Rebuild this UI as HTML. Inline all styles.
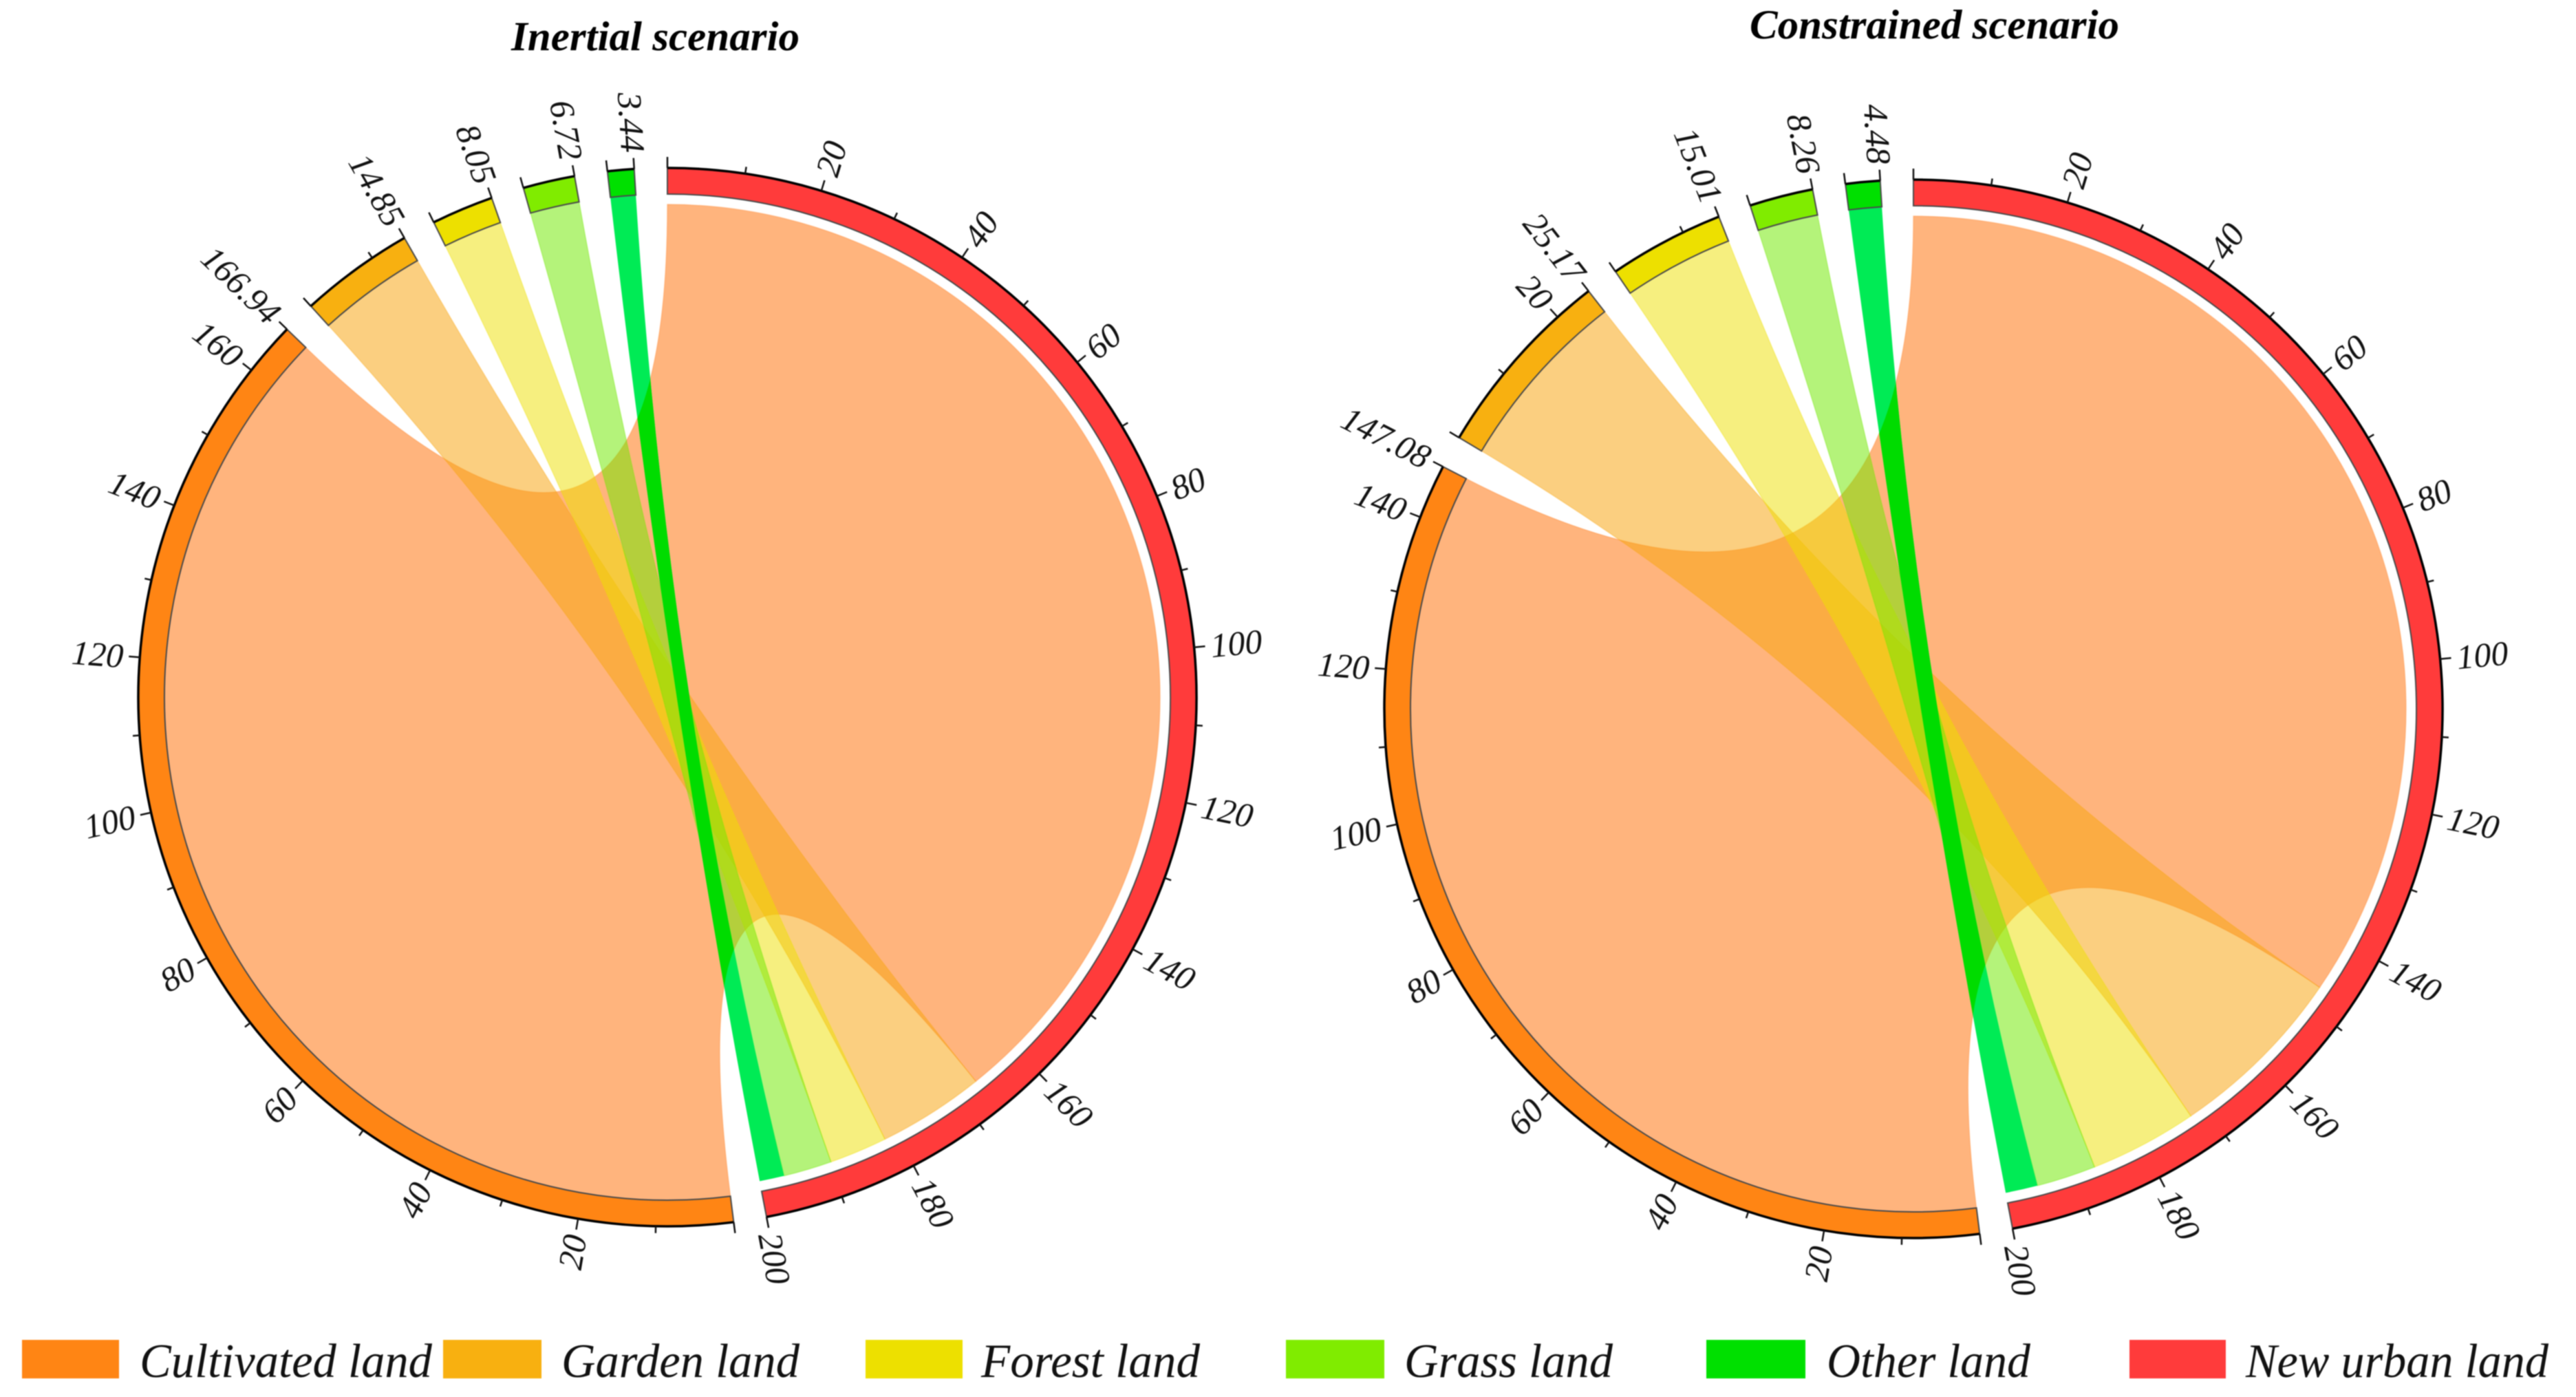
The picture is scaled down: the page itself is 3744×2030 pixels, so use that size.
<!DOCTYPE html>
<html lang="en">
<head>
<meta charset="utf-8">
<title>Chord diagrams of land conversion to new urban land</title>
<style>
  html, body { margin: 0; padding: 0; background: #fff; overflow: hidden; }
  svg { display: block; filter: blur(0.7px); }
  text { font-family: "Liberation Serif", "DejaVu Serif", serif; font-style: italic; fill: #111; }
  .title { font-weight: bold; font-size: 60px; fill: #000; }
  .legend-text { font-size: 70px; }
  .tick-label { font-size: 50px; }
</style>
</head>
<body>
<svg id="figure" xmlns="http://www.w3.org/2000/svg" width="3744" height="2030" viewBox="0 0 3744 2030">
  <rect width="3744" height="2030" fill="#fff"/>
  <text class="title" x="743" y="73" textLength="419" lengthAdjust="spacingAndGlyphs">Inertial scenario</text>
  <text class="title" x="2543" y="56" textLength="537" lengthAdjust="spacingAndGlyphs">Constrained scenario</text>
  <g id="chart-inertial"></g>
  <g id="chart-constrained"></g>
  <g>
    <g>
      <rect x="32" y="1947" width="141" height="56" fill="#ff8514"/>
      <text class="legend-text" x="203" y="2001" textLength="425" lengthAdjust="spacingAndGlyphs">Cultivated land</text>
    </g>
    <g>
      <rect x="644" y="1947" width="143" height="56" fill="#f8b010"/>
      <text class="legend-text" x="816" y="2001" textLength="346" lengthAdjust="spacingAndGlyphs">Garden land</text>
    </g>
    <g>
      <rect x="1258" y="1947" width="141" height="56" fill="#ede000"/>
      <text class="legend-text" x="1426" y="2001" textLength="318" lengthAdjust="spacingAndGlyphs">Forest land</text>
    </g>
    <g>
      <rect x="1869" y="1947" width="143" height="56" fill="#80ec00"/>
      <text class="legend-text" x="2041" y="2001" textLength="303" lengthAdjust="spacingAndGlyphs">Grass land</text>
    </g>
    <g>
      <rect x="2480" y="1947" width="144" height="56" fill="#00e000"/>
      <text class="legend-text" x="2655" y="2001" textLength="296" lengthAdjust="spacingAndGlyphs">Other land</text>
    </g>
    <g>
      <rect x="3095" y="1947" width="140" height="56" fill="#ff3b3b"/>
      <text class="legend-text" x="3264" y="2001" textLength="440" lengthAdjust="spacingAndGlyphs">New urban land</text>
    </g>
  </g>
</svg>
<script>
const categories = ['cultivated-land', 'garden-land', 'forest-land', 'grass-land', 'other-land'];
const inertialValues = [166.94, 14.85, 8.05, 6.72, 3.44];
const constrainedValues = [147.08, 25.17, 15.01, 8.26, 4.48];
const sourceColors = ['#ff8514', '#f8b010', '#ede000', '#80ec00', '#00e000'];
const ribbonColors = ['#ff8226', '#f8a510', '#ede000', '#70e800', '#00eb55'];
const ribbonOpacities = [0.6, 0.53, 0.5, 0.52, 1];
const targetName = 'new-urban-land';
const targetColor = '#ff3b3b';

const SVGNS = 'http://www.w3.org/2000/svg';
const GAP = 3.6;
const R_OUT = 769, R_IN = 731, R_TARGET = 716, R_LABEL = 793;
const MAJOR = 16, MINOR = 10;

function make(tag, parent) {
  const e = document.createElementNS(SVGNS, tag);
  parent.appendChild(e);
  return e;
}
function fmt(v) { return String(Math.round(v * 100) / 100); }

function drawChord(groupId, values, cx, cy, key) {
  const g = document.getElementById(groupId);
  const total = values.reduce(function (a, b) { return a + b; }, 0);
  const k = (360 - (values.length + 1) * GAP) / (2 * total);

  function pt(angle, r) {
    const t = angle * Math.PI / 180;
    return [cx + r * Math.sin(t), cy - r * Math.cos(t)];
  }
  function p(a) { return a[0].toFixed(2) + ' ' + a[1].toFixed(2); }
  function arc(a0, a1, r, sweep) {
    const large = Math.abs(a1 - a0) > 180 ? 1 : 0;
    return 'A' + r + ' ' + r + ' 0 ' + large + ' ' + sweep + ' ' + p(pt(a1, r));
  }
  function ribbonPath(a0, a1, t0, t1) {
    return 'M' + p(pt(a0, R_IN)) + arc(a0, a1, R_IN, 1) +
      'Q' + cx + ' ' + cy + ' ' + p(pt(t0, R_TARGET)) + arc(t0, t1, R_TARGET, 1) +
      'Q' + cx + ' ' + cy + ' ' + p(pt(a0, R_IN)) + 'Z';
  }

  // sector layout, clockwise from the top: target first, then sources
  const targetStart = 0;
  const sourceStarts = [];
  let cursor = total * k + GAP;
  values.forEach(function (v) {
    sourceStarts.push(cursor);
    cursor += v * k + GAP;
  });

  // ribbons
  const ribbons = make('g', g);
  
  
  let consumed = 0;
  let clipId = '';
  values.forEach(function (v, i) {
    const a0 = sourceStarts[i];
    const a1 = a0 + v * k;
    const t0 = targetStart + consumed * k;
    const t1 = targetStart + (consumed + v) * k;
    consumed += v;
    const d = ribbonPath(a0, a1, t0, t1);
    const isLast = i === values.length - 1;
    const path = make('path', ribbons);
    
    
    path.setAttribute('d', d);
    path.setAttribute('fill', ribbonColors[i]);
    path.setAttribute('fill-opacity', ribbonOpacities[i]);
    if (!isLast) {
      path.setAttribute('stroke', ribbonColors[i]);
      path.setAttribute('stroke-opacity', '0.35');
      path.setAttribute('stroke-width', '1.5');
    }
    if (i === 0) {
      clipId = 'clip-' + key;
      const cp = make('clipPath', ribbons);
      cp.setAttribute('id', clipId);
      const cpPath = make('path', cp);
      cpPath.setAttribute('d', d);
    }
    if (isLast) {
      const over = make('path', ribbons);
      
      
      over.setAttribute('d', d);
      over.setAttribute('fill', '#00dc00');
      over.setAttribute('clip-path', 'url(#' + clipId + ')');
    }
  });

  // rings + ticks
  function drawSector(name, color, start, size) {
    const a0 = start;
    const a1 = start + size * k;
    const sector = make('g', g);
    
    

    const ring = make('path', sector);
    
    
    ring.setAttribute('d', 'M' + p(pt(a0, R_OUT)) + arc(a0, a1, R_OUT, 1) +
      'L' + p(pt(a1, R_IN)) + arc(a1, a0, R_IN, 0) + 'Z');
    ring.setAttribute('fill', color);
    ring.setAttribute('stroke', '#4a4a4a');
    ring.setAttribute('stroke-width', '2');

    const axis = make('path', sector);
    
    
    axis.setAttribute('d', 'M' + p(pt(a0, R_OUT)) + arc(a0, a1, R_OUT, 1));
    axis.setAttribute('fill', 'none');
    axis.setAttribute('stroke', '#000');
    axis.setAttribute('stroke-width', '3.5');

    function tick(value, len) {
      const a = start + value * k;
      const line = make('line', sector);
      
      
      const o = pt(a, R_OUT), e = pt(a, R_OUT + len);
      line.setAttribute('x1', o[0].toFixed(2));
      line.setAttribute('y1', o[1].toFixed(2));
      line.setAttribute('x2', e[0].toFixed(2));
      line.setAttribute('y2', e[1].toFixed(2));
      line.setAttribute('stroke', '#111');
      line.setAttribute('stroke-width', '2.5');
    }
    function label(value, str) {
      const a = start + value * k;
      const pos = pt(a, R_LABEL);
      const right = a < 180;
      const t = make('text', sector);
      
      
      t.setAttribute('class', 'tick-label');
      t.setAttribute('x', pos[0].toFixed(2));
      t.setAttribute('y', pos[1].toFixed(2));
      t.setAttribute('dy', '0.34em');
      t.setAttribute('text-anchor', right ? 'start' : 'end');
      const rot = right ? a - 90 : a + 90;
      t.setAttribute('transform', 'rotate(' + rot.toFixed(2) + ' ' + pos[0].toFixed(2) + ' ' + pos[1].toFixed(2) + ')');
      t.textContent = str;
    }

    tick(0, MAJOR);
    for (let v = 10; v < size - 0.001; v += 10) {
      const isMajor = v % 20 === 0;
      tick(v, isMajor ? MAJOR : MINOR);
      if (isMajor) label(v, String(v));
    }
    tick(size, MAJOR);
    label(size, fmt(size));
  }

  drawSector(targetName, targetColor, targetStart, total);
  values.forEach(function (v, i) {
    drawSector(categories[i], sourceColors[i], sourceStarts[i], v);
  });
}

drawChord('chart-inertial', inertialValues, 970, 1013, 'inertial');
drawChord('chart-constrained', constrainedValues, 2781, 1030, 'constrained');
</script>
</body>
</html>
